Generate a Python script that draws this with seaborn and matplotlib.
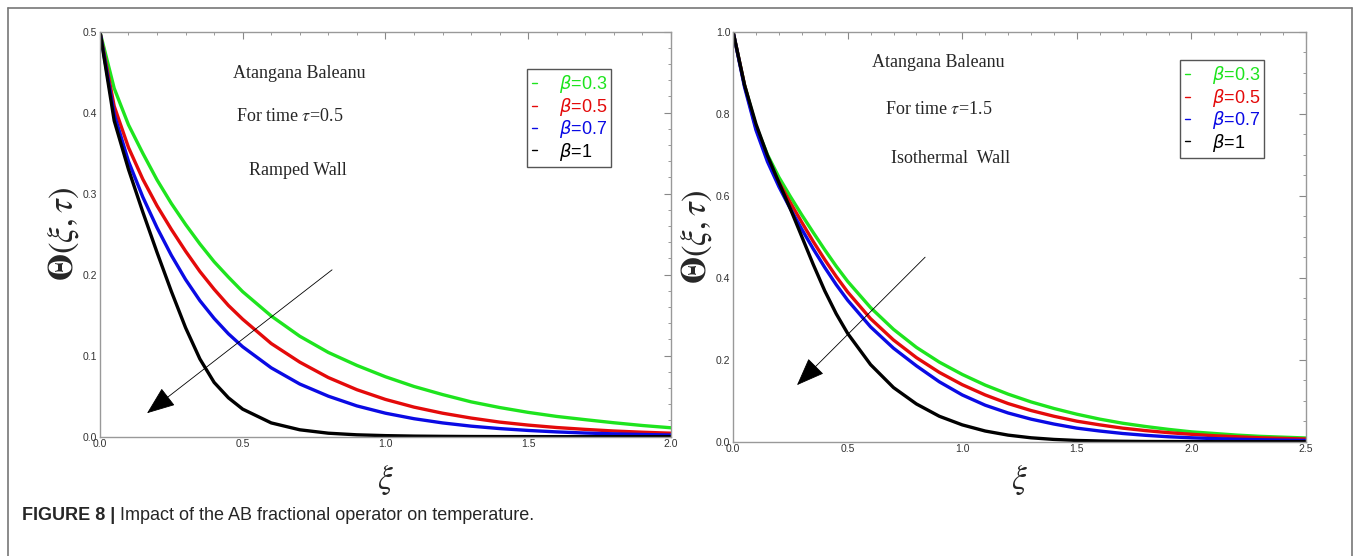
import matplotlib.pyplot as plt
import seaborn as sns
import numpy as np
import pandas as pd
from matplotlib.ticker import MultipleLocator, FormatStrFormatter
from matplotlib.lines import Line2D

# Data
betas = ['β=0.3', 'β=0.5', 'β=0.7', 'β=1']
colors = ['#1ee41e', '#e40a0a', '#0a0ae4', '#000000']
legend_labels = [r'$\beta$=0.3', r'$\beta$=0.5', r'$\beta$=0.7', r'$\beta$=1']

# left panel: ramped wall, tau = 0.5
xi_left = [0, 0.05, 0.1, 0.15, 0.2, 0.25, 0.3, 0.35, 0.4, 0.45, 0.5,
           0.6, 0.7, 0.8, 0.9, 1.0, 1.1, 1.2, 1.3, 1.4, 1.5, 1.6, 1.7, 1.8, 1.9, 2.0]
ramp_b03 = [0.5, 0.43, 0.385, 0.35, 0.317, 0.288, 0.262, 0.238, 0.216, 0.197, 0.179,
            0.149, 0.124, 0.104, 0.088, 0.074, 0.062, 0.052, 0.043, 0.036, 0.030,
            0.025, 0.021, 0.0172, 0.0138, 0.011]
ramp_b05 = [0.5, 0.408, 0.357, 0.318, 0.285, 0.256, 0.229, 0.204, 0.182, 0.162, 0.145,
            0.115, 0.092, 0.073, 0.058, 0.046, 0.0365, 0.029, 0.023, 0.018, 0.0143,
            0.0113, 0.009, 0.007, 0.0055, 0.0043]
ramp_b07 = [0.5, 0.398, 0.34, 0.296, 0.258, 0.224, 0.194, 0.168, 0.146, 0.127, 0.111,
            0.085, 0.065, 0.05, 0.038, 0.029, 0.0222, 0.017, 0.013, 0.01, 0.0077,
            0.0059, 0.0045, 0.0035, 0.0027, 0.002]
ramp_b1 = [0.5, 0.39, 0.33, 0.2775, 0.2275, 0.1795, 0.1345, 0.096, 0.067, 0.048, 0.034,
           0.017, 0.0085, 0.0043, 0.0023, 0.0013, 0.0007, 0.0004, 0.0002, 0.0001, 0.0001,
           0.0, 0.0, 0.0, 0.0, 0.0]

# right panel: isothermal wall, tau = 1.5
xi_right = [0, 0.05, 0.1, 0.15, 0.2, 0.25, 0.3, 0.35, 0.4, 0.45, 0.5,
            0.6, 0.7, 0.8, 0.9, 1.0, 1.1, 1.2, 1.3, 1.4, 1.5, 1.6, 1.7, 1.8, 1.9,
            2.0, 2.1, 2.2, 2.3, 2.4, 2.5]
iso_b03 = [1.0, 0.87, 0.77, 0.7, 0.645, 0.598, 0.553, 0.51, 0.468, 0.428, 0.391,
           0.327, 0.274, 0.23, 0.194, 0.164, 0.138, 0.116, 0.097, 0.081, 0.067,
           0.055, 0.045, 0.037, 0.030, 0.024, 0.020, 0.016, 0.013, 0.011, 0.009]
iso_b05 = [1.0, 0.87, 0.765, 0.69, 0.633, 0.583, 0.535, 0.488, 0.444, 0.403, 0.365,
           0.3, 0.248, 0.205, 0.169, 0.139, 0.114, 0.093, 0.076, 0.062, 0.05,
           0.041, 0.033, 0.027, 0.022, 0.018, 0.0145, 0.012, 0.0095, 0.008, 0.0065]
iso_b07 = [1.0, 0.865, 0.76, 0.683, 0.622, 0.568, 0.518, 0.47, 0.425, 0.383, 0.345,
           0.28, 0.228, 0.185, 0.146, 0.114, 0.089, 0.07, 0.055, 0.043, 0.033,
           0.026, 0.02, 0.0155, 0.012, 0.0095, 0.0075, 0.006, 0.0048, 0.0038, 0.003]
iso_b1 = [1.0, 0.87, 0.775, 0.698, 0.632, 0.568, 0.5, 0.432, 0.368, 0.312, 0.264,
          0.188, 0.132, 0.092, 0.062, 0.041, 0.026, 0.016, 0.0095, 0.0055, 0.003,
          0.0017, 0.001, 0.0005, 0.0003, 0.0002, 0.0, 0.0, 0.0, 0.0, 0.0]


def long_df(xi, series):
    frames = [pd.DataFrame({'xi': xi, 'theta': s, 'beta': b}) for b, s in zip(betas, series)]
    return pd.concat(frames, ignore_index=True)


df_left = long_df(xi_left, [ramp_b03, ramp_b05, ramp_b07, ramp_b1])
df_right = long_df(xi_right, [iso_b03, iso_b05, iso_b07, iso_b1])

sns.set_style('white')
plt.rcParams['mathtext.fontset'] = 'stix'
serif = ['Liberation Serif', 'DejaVu Serif']
sans = ['Liberation Sans', 'DejaVu Sans']

fig = plt.figure(figsize=(13.56, 5.56), dpi=100)
ax1 = fig.add_axes([0.0737, 0.2146, 0.4211, 0.7284])
ax2 = fig.add_axes([0.5406, 0.2056, 0.4226, 0.7374])


def style_axes(ax, xmax, ymax, xmaj, ymaj, ymin_step):
    ax.set_xlim(0, xmax)
    ax.set_ylim(0, ymax)
    ax.xaxis.set_major_locator(MultipleLocator(xmaj))
    ax.xaxis.set_minor_locator(MultipleLocator(0.1))
    ax.yaxis.set_major_locator(MultipleLocator(ymaj))
    ax.yaxis.set_minor_locator(MultipleLocator(ymin_step))
    ax.xaxis.set_major_formatter(FormatStrFormatter('%.1f'))
    ax.yaxis.set_major_formatter(FormatStrFormatter('%.1f'))
    ax.tick_params(which='both', direction='in', top=True, right=True,
                   color='#888888', labelsize=7.5, labelcolor='#333333', pad=2)
    ax.tick_params(which='major', length=5, width=0.8)
    ax.tick_params(which='minor', length=2.5, width=0.6)
    for lab in ax.get_xticklabels() + ax.get_yticklabels():
        lab.set_family(sans)
    for sp in ax.spines.values():
        sp.set_color('#999999')
        sp.set_linewidth(1.0)


for ax, df in [(ax1, df_left), (ax2, df_right)]:
    sns.lineplot(data=df, x='xi', y='theta', hue='beta', hue_order=betas,
                 palette=colors, linewidth=2.4, estimator=None, legend=False, ax=ax)

style_axes(ax1, 2.0, 0.5, 0.5, 0.1, 0.02)
style_axes(ax2, 2.5, 1.0, 0.5, 0.2, 0.05)

for ax, ylab_x, xlab_y in [(ax1, -0.033, -0.065), (ax2, -0.034, -0.052)]:
    ax.set_xlabel(r'$\xi$', fontsize=24)
    ax.set_ylabel(r'$\mathbf{\Theta}\left(\xi,\tau\right)$', fontsize=25)
    ax.xaxis.set_label_coords(0.5, xlab_y)
    ax.yaxis.set_label_coords(ylab_x, 0.5)

# annotations
txt = dict(ha='center', va='center', fontsize=13, family=serif)
ax1.text(0.70, 0.449, 'Atangana Baleanu', **txt)
ax1.text(0.665, 0.395, r'For time $\tau$=0.5', **txt)
ax1.text(0.693, 0.329, 'Ramped Wall', **txt)
ax2.text(0.894, 0.924, 'Atangana Baleanu', **txt)
ax2.text(0.899, 0.81, r'For time $\tau$=1.5', **txt)
ax2.text(0.947, 0.69, 'Isothermal  Wall', **txt)

arrow = dict(arrowstyle='-|>,head_length=0.9,head_width=0.35', color='black', lw=0.6,
             mutation_scale=20, shrinkA=0, shrinkB=0)
ax1.annotate('', xy=(0.165, 0.029), xytext=(0.813, 0.206), arrowprops=arrow)
ax2.annotate('', xy=(0.279, 0.138), xytext=(0.838, 0.45), arrowprops=arrow)

# legends
handles = [Line2D([0], [0], color=c, lw=1) for c in colors]
for ax, anchor in [(ax1, (0.748, 0.908)), (ax2, (0.78, 0.931))]:
    leg = ax.legend(handles, legend_labels, loc='upper left', bbox_to_anchor=anchor,
                    borderaxespad=0, handlelength=0.3, handletextpad=1.2,
                    labelspacing=0.02, borderpad=0.25, frameon=True, fancybox=False,
                    edgecolor='#555555', framealpha=1, prop={'family': sans, 'size': 13})
    leg.get_frame().set_linewidth(1.0)
    for t, c in zip(leg.get_texts(), colors):
        t.set_color(c)
        t.set_math_fontfamily('dejavusans')

# outer frame and caption
fig.add_artist(Line2D([8 / 1356, 8 / 1356], [0, 1 - 8 / 556], color='#777777', lw=1.2))
fig.add_artist(Line2D([8 / 1356, 1352 / 1356], [1 - 8 / 556, 1 - 8 / 556], color='#777777', lw=1.2))
fig.add_artist(Line2D([1352 / 1356, 1352 / 1356], [0, 1 - 8 / 556], color='#777777', lw=1.2))
cap1 = fig.text(22 / 1356, 1 - 520 / 556, 'FIGURE 8 |', fontsize=13, fontweight='bold',
                family=sans, va='baseline')
fig.canvas.draw()
x_end = cap1.get_window_extent().x1
fig.text((x_end + 5) / 1356, 1 - 520 / 556,
         'Impact of the AB fractional operator on temperature.',
         fontsize=13, family=sans, va='baseline')

fig.savefig('out.png', dpi=100)
